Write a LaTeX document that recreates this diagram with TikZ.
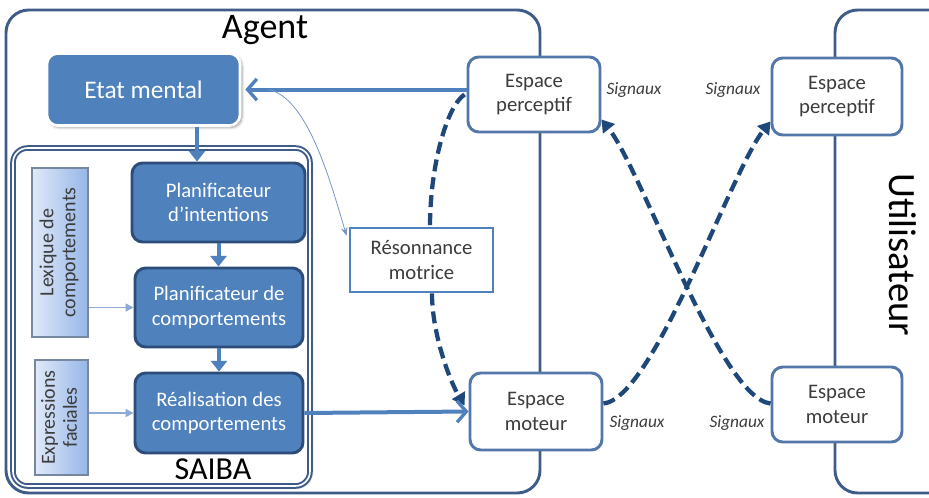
\documentclass[tikz,border=0pt]{standalone}
\usepackage{fontspec}
\setmainfont{Carlito}
\usetikzlibrary{arrows.meta}
\usetikzlibrary{shadows.blur}
\usetikzlibrary{calc}

\definecolor{blocfill}{RGB}{79,129,189}
\definecolor{blocline}{RGB}{44,77,122}
\definecolor{cadre}{RGB}{62,92,135}
\definecolor{espline}{RGB}{84,119,170}
\definecolor{pointille}{RGB}{30,72,122}
\definecolor{filfin}{RGB}{120,150,195}
\definecolor{lexleft}{RGB}{224,233,248}
\definecolor{lexright}{RGB}{150,182,232}
\definecolor{lexline}{RGB}{120,135,160}
\definecolor{texte}{RGB}{60,60,60}
\definecolor{lienclair}{RGB}{140,172,215}

\tikzset{
  bloc/.style={draw=blocline, fill=blocfill, line width=2.2pt, rounded corners=8pt, text=white, align=center, inner sep=2pt, font=\fontsize{15.5}{18.5}\selectfont},
  espace/.style={draw=espline, fill=white, line width=2.2pt, rounded corners=8pt, text=texte, align=center, inner sep=2pt, font=\fontsize{15.5}{18.5}\selectfont},
  resonance/.style={draw=blocfill, fill=white, line width=2.2pt, text=texte, align=center, inner sep=2pt, font=\fontsize{15.5}{18.5}\selectfont},
  lexique/.style={draw=lexline, left color=lexleft, right color=lexright, line width=0.8pt, text=texte, inner sep=1pt, font=\fontsize{15}{16.5}\selectfont},
  signal/.style={inner sep=0.75pt, text=texte, font=\itshape\fontsize{13}{15}\selectfont},
  plein/.style={line width=3pt, draw=blocfill, -{Triangle[length=8pt,width=12pt]}},
  ouvert/.style={line width=3pt, draw=blocfill, -{Straight Barb[length=7pt,width=16pt,line width=2.5pt]}},
  tirets/.style={line width=3.2pt, draw=pointille, dash pattern=on 9pt off 4.5pt},
  bout/.style={-{Triangle[length=9pt,width=11pt]}},
  mince/.style={line width=0.6pt, draw=filfin, -{Stealth[length=6pt,width=5pt]}},
  lien/.style={line width=1.2pt, draw=lienclair, -{Triangle[length=6pt,width=6pt]}}
}

\begin{document}
\begin{tikzpicture}[x=0.75pt,y=0.75pt,yscale=-1,xscale=1]
\useasboundingbox (0,0) rectangle (929,497);

% Frames
\draw [draw=cadre, line width=2.2pt, rounded corners=17pt] (6,10) rectangle (540,493);
\draw [draw=cadre, line width=2.2pt, rounded corners=17pt] (835,10) rectangle (990,493);
\draw [draw=cadre, fill=white, line width=1.5pt, double=white, double distance=1.2pt, rounded corners=11pt, blur shadow={shadow xshift=1pt, shadow yshift=-1pt}] (13,148) rectangle (310,486);

% Text Node
\node [font=\fontsize{27}{32}\selectfont] (agent) at (265,30) {Agent};
% Text Node
\node [font=\fontsize{29}{34}\selectfont, rotate=-90] (user) at (903,255) {Utilisateur};
% Text Node
\node [font=\fontsize{24}{28}\selectfont] (saiba) at (213,469) {SAIBA};

% Agent blocks
\node [bloc, draw=white, line width=2pt, blur shadow={shadow xshift=1.5pt, shadow yshift=-1.5pt}, minimum width=144.75pt, minimum height=54pt, font=\fontsize{19}{22}\selectfont] (etat) at (143.5,89.5) {Etat mental};
\node [bloc, minimum width=129.75pt, minimum height=59.25pt] (pi) at (218.5,202.5) {Planificateur\\d’intentions};
\node [bloc, minimum width=126pt, minimum height=59.25pt] (pc) at (219,307.5) {Planificateur de\\comportements};
\node [bloc, minimum width=126pt, minimum height=60pt] (re) at (219,413) {Réalisation des\\comportements};
\node [lexique, minimum width=42pt, minimum height=126.75pt] (lex) at (60,252.5) {\rotatebox{90}{\begin{tabular}{@{}c@{}}Lexique de\\comportements\end{tabular}}};
\node [lexique, minimum width=39.75pt, minimum height=86.25pt] (expr) at (61.5,417.5) {\rotatebox{90}{\begin{tabular}{@{}c@{}}Expressions\\faciales\end{tabular}}};
\node [resonance, minimum width=107.25pt, minimum height=48pt] (rs) at (421.5,260) {Résonnance\\motrice};

% Espaces
\node [espace, minimum width=99pt, minimum height=56.25pt] (ep1) at (534,94.5) {Espace\\perceptif};
\node [espace, minimum width=99pt, minimum height=57.75pt] (em1) at (536,411.5) {Espace\\moteur};
\node [espace, minimum width=97.5pt, minimum height=57.75pt] (ep2) at (837,96.5) {Espace\\perceptif};
\node [espace, minimum width=97.5pt, minimum height=56.25pt] (em2) at (837,404.5) {Espace\\moteur};

% Signaux
\node [signal] (sig1) at (634,90) {Signaux};
\node [signal] (sig2) at (733,90) {Signaux};
\node [signal] (sig3) at (637,423) {Signaux};
\node [signal] (sig4) at (737,423) {Signaux};

% Connectors
\draw [plein] ($(etat.south)+(53.5,0)$) -- ($(pi.north)+(-21.5,0)$);
\draw [plein] (pi.south) -- (pi.south |- pc.north);
\draw [plein] (pc.south) -- (re.north);
\draw [lien] (lex.east |- pc.west) -- (pc.west);
\draw [lien] (expr.east |- re.west) -- (re.west);

\draw [ouvert] (ep1.west |- etat.east) -- ($(etat.east)+(4,0)$);
\coordinate (branche) at ($(etat.east)!0.12!(ep1.west |- etat.east)$);
\draw [mince] (branche) .. controls +(40,8) and +(-15,-50) .. ($(rs.north west)+(-2,9)$);

\draw [tirets] ($(ep1.west)+(-2,0)$) .. controls +(-18,12) and +(0,-60) .. ($(rs.north)+(8.5,0)$);
\draw [tirets, bout] ($(rs.south)+(10.5,0)$) .. controls +(0,40) and +(-15,-25) .. ($(em1.west)+(-4,-6)$);
\draw [ouvert] (re.east) -- (em1.west);

\draw [tirets, bout] ($(em1.east)+(0,-8)$) .. controls +(50,-5) and +(-40,50) .. ($(ep2.south west)+(0,-15)$);
\draw [tirets, bout] ($(em2.west)+(0,-1)$) .. controls +(-50,-5) and +(40,50) .. ($(ep1.south east)+(0,-14)$);

\end{tikzpicture}
\end{document}
